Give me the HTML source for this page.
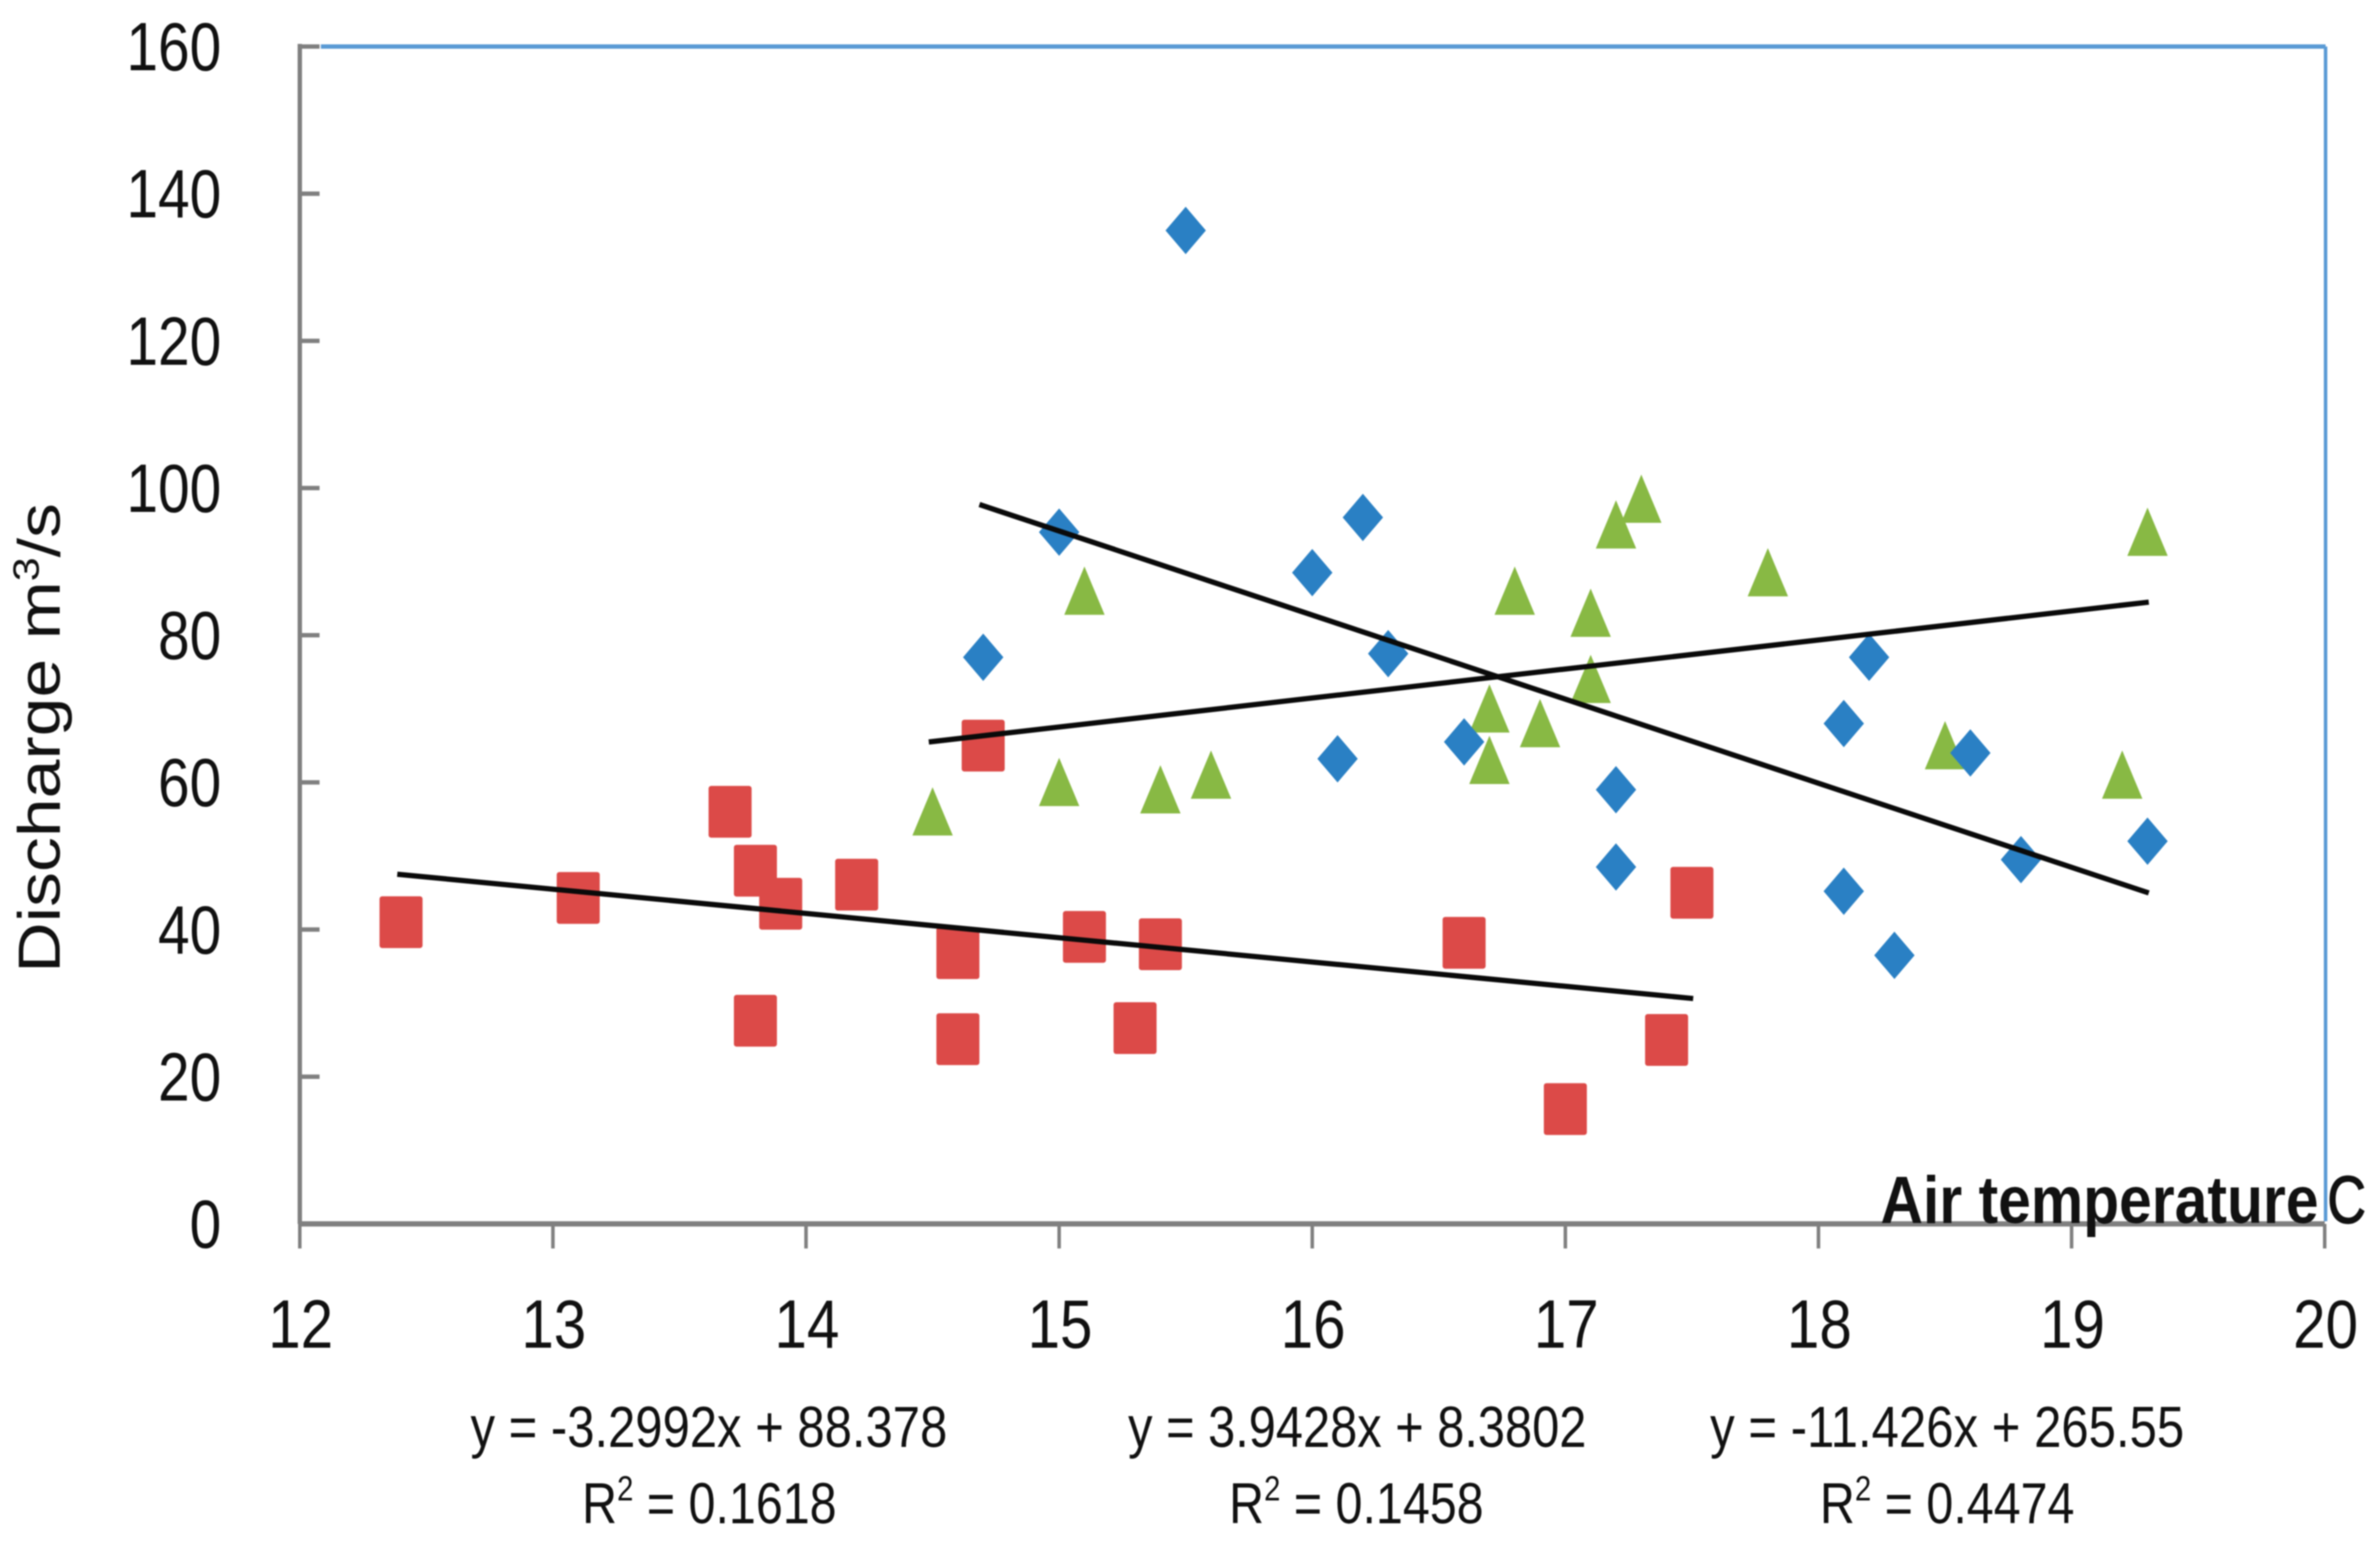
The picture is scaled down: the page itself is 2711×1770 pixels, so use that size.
<!DOCTYPE html>
<html lang="en">
<head>
<meta charset="utf-8">
<title>Discharge vs air temperature</title>
<style>
html,body{margin:0;padding:0;background:#fff;}
#chart{display:block;width:2711px;height:1770px;filter:blur(0.7px);}
text{font-family:"Liberation Sans",sans-serif;fill:#111;}
</style>
</head>
<body>
<svg id="chart" xmlns="http://www.w3.org/2000/svg" width="2711" height="1770" viewBox="0 0 2711 1770">
  <rect x="0" y="0" width="2711" height="1770" fill="#ffffff"/>
  <g id="frame"></g>
  <g id="ticks"></g>
  <g id="trends"></g>
  <g id="marks"></g>
  <g id="labels"></g>

  <text transform="translate(68,1108) rotate(-90)" font-size="68" textLength="535" lengthAdjust="spacingAndGlyphs">Discharge m<tspan font-size="42" dy="-24">3</tspan><tspan dy="24">/s</tspan></text>

  <text x="2142" y="1393" font-size="76" font-weight="bold" textLength="499" lengthAdjust="spacingAndGlyphs">Air temperature</text>
  <text x="2651" y="1393" font-size="76" stroke="#111" stroke-width="1.5" textLength="44" lengthAdjust="spacingAndGlyphs">C</text>

  <text x="536" y="1648" font-size="66" textLength="543" lengthAdjust="spacingAndGlyphs">y = -3.2992x + 88.378</text>
  <text x="663" y="1735" font-size="66" textLength="290" lengthAdjust="spacingAndGlyphs">R<tspan font-size="40" dy="-26">2</tspan><tspan dy="26"> = 0.1618</tspan></text>
  <text x="1285" y="1648" font-size="66" textLength="522" lengthAdjust="spacingAndGlyphs">y = 3.9428x + 8.3802</text>
  <text x="1400" y="1735" font-size="66" textLength="290" lengthAdjust="spacingAndGlyphs">R<tspan font-size="40" dy="-26">2</tspan><tspan dy="26"> = 0.1458</tspan></text>
  <text x="1948" y="1648" font-size="66" textLength="540" lengthAdjust="spacingAndGlyphs">y = -11.426x + 265.55</text>
  <text x="2073" y="1735" font-size="66" textLength="290" lengthAdjust="spacingAndGlyphs">R<tspan font-size="40" dy="-26">2</tspan><tspan dy="26"> = 0.4474</tspan></text>
</svg>
<script>
var xTicks = [12, 13, 14, 15, 16, 17, 18, 19, 20];
var yTicks = [0, 20, 40, 60, 80, 100, 120, 140, 160];

var blueX = [15.5, 14.7, 15, 16, 16.2, 16.3, 16.1, 16.6, 17.2, 17.2, 18.1, 18.2, 18.1, 18.3, 18.6, 18.8, 19.3];
var blueY = [135, 77, 94, 88.5, 96, 77.5, 63.2, 65.5, 59, 48.5, 68, 77, 45.2, 36.5, 64, 49.5, 52];

var redX = [12.4, 13.1, 13.7, 13.8, 13.9, 14.2, 13.8, 14.6, 14.6, 14.7, 15.1, 15.3, 15.4, 16.6, 17, 17.4, 17.5];
var redY = [41, 44.3, 56, 48, 43.5, 46.1, 27.6, 36.8, 25.1, 65, 39, 26.6, 38, 38.2, 15.6, 25, 45];

var greenX = [14.5, 15, 15.1, 15.4, 15.6, 16.7, 16.7, 16.8, 16.9, 17.1, 17.1, 17.2, 17.3, 17.8, 18.5, 19.2, 19.3];
var greenY = [56, 60, 86, 59, 61, 70, 63, 86, 68, 83, 74, 95, 98.5, 88.5, 65, 61, 94];

var trendNames = ['red', 'green', 'blue'];
var trendSlopes = [-3.2992, 3.9428, -11.426];
var trendIntercepts = [88.378, 8.3802, 265.55];
var trendStartX = [12.385, 14.485, 14.685];
var trendEndX = [17.505, 19.305, 19.305];

var SVG_NS = 'http://www.w3.org/2000/svg';
function sx(v) { return 341.5 + (v - 12) * (2648 - 341.5) / 8; }
function sy(v) { return 1394 - v * (1394 - 53) / 160; }
function make(tag, attrs, parent) {
  var el = document.createElementNS(SVG_NS, tag);
  for (var k in attrs) el.setAttribute(k, attrs[k]);
  parent.appendChild(el);
  return el;
}

var frame = document.getElementById('frame');
var ticks = document.getElementById('ticks');
var labels = document.getElementById('labels');
var trends = document.getElementById('trends');
var marks = document.getElementById('marks');

var topSpine = make('line', {x1: sx(12) + 24, y1: sy(160), x2: sx(20) + 1, y2: sy(160), stroke: '#5b9bd5', 'stroke-width': 5}, frame);


var rightSpine = make('line', {x1: sx(20) + 1, y1: sy(160), x2: sx(20) + 1, y2: sy(0) - 3, stroke: '#5b9bd5', 'stroke-width': 4}, frame);


var yAxis = make('line', {x1: sx(12), y1: sy(160) - 3, x2: sx(12), y2: sy(0), stroke: '#808080', 'stroke-width': 5}, frame);


var xAxis = make('line', {x1: sx(12), y1: sy(0), x2: sx(20), y2: sy(0), stroke: '#808080', 'stroke-width': 6}, frame);



xTicks.forEach(function (t) {
  var line = make('line', {x1: sx(t), y1: sy(0), x2: sx(t), y2: 1422, stroke: '#808080', 'stroke-width': 4}, ticks);
  
  
  var label = make('text', {x: sx(t) + 1, y: 1535, 'font-size': 78, 'text-anchor': 'middle', textLength: 74, lengthAdjust: 'spacingAndGlyphs'}, labels);
  label.textContent = String(t);
  
  
});

yTicks.forEach(function (t) {
  var line = make('line', {x1: sx(12), y1: sy(t), x2: 364, y2: sy(t), stroke: '#808080', 'stroke-width': 5}, ticks);
  
  
  var s = String(t);
  var label = make('text', {x: 252, y: sy(t) + 27, 'font-size': 78, 'text-anchor': 'end', textLength: s.length * 36, lengthAdjust: 'spacingAndGlyphs'}, labels);
  label.textContent = s;
  
  
});

function drawDiamonds(xs, ys) {
  xs.forEach(function (x, i) {
    var cx = sx(x), cy = sy(ys[i]);
    var p = make('polygon', {points: [cx, cy - 27, cx + 23, cy, cx, cy + 27, cx - 23, cy].join(','), fill: '#2a80c4'}, marks);
    
    
  });
}
function drawSquares(xs, ys) {
  xs.forEach(function (x, i) {
    var cx = sx(x), cy = sy(ys[i]);
    var r = make('rect', {x: cx - 24.5, y: cy - 29.5, width: 49, height: 59, rx: 3, fill: '#dc4a48'}, marks);
    
    
  });
}
function drawTriangles(xs, ys) {
  xs.forEach(function (x, i) {
    var cx = sx(x), cy = sy(ys[i]);
    var p = make('polygon', {points: [cx, cy - 28, cx + 23, cy + 27, cx - 23, cy + 27].join(','), fill: '#88b944'}, marks);
    
    
  });
}
drawSquares(redX, redY);
drawTriangles(greenX, greenY);
drawDiamonds(blueX, blueY);

trendNames.forEach(function (name, i) {
  var fit = function (x) { return trendSlopes[i] * x + trendIntercepts[i]; };
  var line = make('line', {x1: sx(trendStartX[i]), y1: sy(fit(trendStartX[i])), x2: sx(trendEndX[i]), y2: sy(fit(trendEndX[i])), stroke: '#0a0a0a', 'stroke-width': 6}, document.getElementById('chart'));
  
  
});
</script>
</body>
</html>
